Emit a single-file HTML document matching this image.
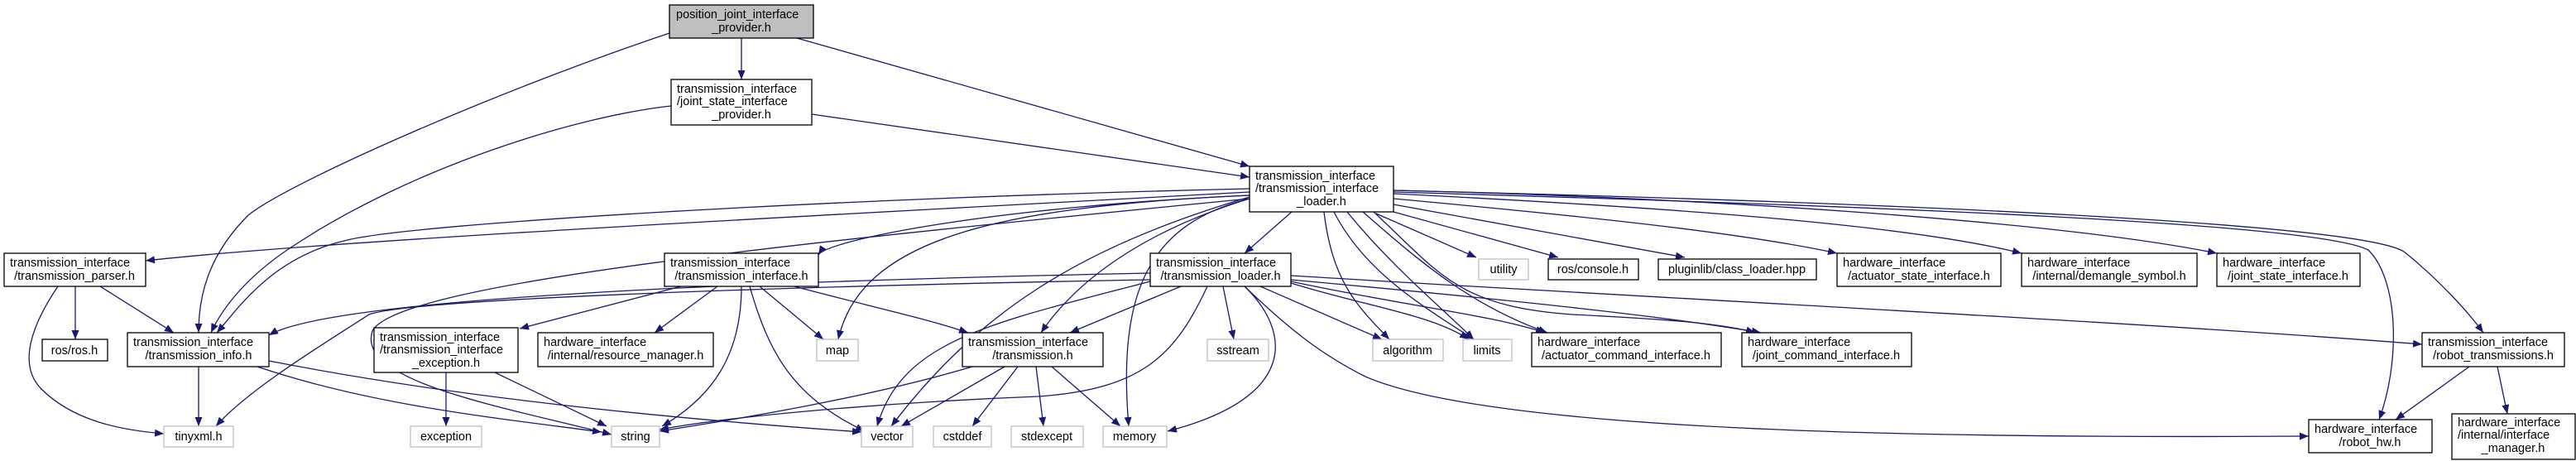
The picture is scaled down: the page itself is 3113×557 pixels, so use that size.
<!DOCTYPE html>
<html><head><meta charset="utf-8"><style>
html,body{margin:0;padding:0;background:#fff;}
svg{display:block;}
text{font-family:"Liberation Sans",sans-serif;font-size:14.5px;fill:#000;}
.e{fill:none;stroke:#191970;stroke-width:1.3;marker-end:url(#a);}
.b{fill:#fff;stroke:#000;stroke-width:1.3;}
.g{fill:#fff;stroke:#bfbfbf;stroke-width:1.3;}
</style></head><body>
<svg width="3113" height="557" viewBox="0 0 3113 557" xmlns="http://www.w3.org/2000/svg">
<defs><marker id="a" markerUnits="userSpaceOnUse" markerWidth="12" markerHeight="9" refX="11" refY="4.5" orient="auto"><path d="M0,0 L11,4.5 L0,9 z" fill="#191970"/></marker></defs>

<!-- edges -->
<path class="e" d="M896,46 L896,96"/>
<path class="e" d="M809,40 C600,110 350,220 300,260 C250,310 240,360 240,402"/>
<path class="e" d="M963,46 L1510,201"/>
<path class="e" d="M811,128 C700,140 500,200 350,300 C290,340 265,380 255,402"/>
<path class="e" d="M981,138 L1510,214"/>
<path class="e" d="M1510,232 C1000,260 400,290 176,315"/>
<path class="e" d="M1510,228 C1000,240 500,270 420,290 C330,310 290,370 262,402"/>
<path class="e" d="M1510,240 C1000,290 480,340 450,400 C430,460 600,490 739,525"/>
<path class="e" d="M1510,236 C1200,250 1000,290 989,308"/>
<path class="e" d="M1510,236 C1200,250 1040,290 1013,410"/>
<path class="e" d="M1510,238 C1300,300 1180,380 1077,515"/>
<path class="e" d="M1510,240 C1380,280 1300,340 1258,402"/>
<path class="e" d="M1510,240 C1390,270 1350,350 1364,515"/>
<path class="e" d="M1561,256 L1504,306"/>
<path class="e" d="M1600,256 C1610,340 1640,370 1679,410"/>
<path class="e" d="M1612,256 C1650,330 1720,370 1781,410"/>
<path class="e" d="M1628,256 C1680,320 1740,370 1781,410"/>
<path class="e" d="M1647,256 C1720,320 1780,370 1870,402"/>
<path class="e" d="M1660,256 C1740,330 1760,370 1900,380 C2000,385 2080,390 2121,402"/>
<path class="e" d="M1663,258 L1784,311"/>
<path class="e" d="M1684,256 L1883,311"/>
<path class="e" d="M1684,247 L2036,311"/>
<path class="e" d="M1684,240 C1900,260 2100,280 2220,306"/>
<path class="e" d="M1684,234 C2000,250 2300,270 2443,306"/>
<path class="e" d="M1684,230 C2100,240 2500,270 2679,306"/>
<path class="e" d="M1684,232 C2300,250 2800,270 2862,302 C2900,340 2900,440 2875,507"/>
<path class="e" d="M1684,230 C2300,245 2850,270 2905,304 C2950,340 2985,380 3001,402"/>

<path class="e" d="M1390,330 C900,340 400,360 325,405"/>
<path class="e" d="M1390,338 C1000,345 500,360 446,380 C400,410 300,470 261,515"/>
<path class="e" d="M1459,346 C1420,430 1380,470 1255,479 C1100,485 900,500 797,519"/>
<path class="e" d="M1390,340 C1200,390 1090,410 1060,515"/>
<path class="e" d="M1427,346 L1293,402"/>
<path class="e" d="M1478,346 L1491,410"/>
<path class="e" d="M1504,346 C1560,400 1570,480 1411,521"/>
<path class="e" d="M1504,346 C1560,400 1600,430 1650,455 C1800,520 2300,530 2790,527"/>
<path class="e" d="M1523,346 L1670,410"/>
<path class="e" d="M1560,342 C1650,370 1730,380 1775,410"/>
<path class="e" d="M1560,340 C1700,370 1800,380 1867,402"/>
<path class="e" d="M1560,338 C1800,360 2000,380 2128,402"/>
<path class="e" d="M1560,333 C2000,360 2600,390 2927,416"/>

<path class="e" d="M823,346 L628,397"/>
<path class="e" d="M867,346 L791,402"/>
<path class="e" d="M896,346 C896,430 860,480 800,515"/>
<path class="e" d="M906,346 C930,430 960,480 1045,521"/>
<path class="e" d="M918,346 L995,410"/>
<path class="e" d="M960,346 C1050,370 1120,385 1170,402"/>

<path class="e" d="M91,346 L91,410"/>
<path class="e" d="M121,346 L210,402"/>
<path class="e" d="M70,346 C40,390 20,440 50,470 C90,510 150,520 198,524"/>

<path class="e" d="M240,443 L240,515"/>
<path class="e" d="M311,443 C450,490 600,505 727,522"/>
<path class="e" d="M325,436 C550,480 800,505 1041,522"/>
<path class="e" d="M539,450 L539,515"/>
<path class="e" d="M598,450 L733,515"/>

<path class="e" d="M1175,443 C1050,480 900,505 797,521"/>
<path class="e" d="M1214,443 L1089,515"/>
<path class="e" d="M1230,443 L1175,515"/>
<path class="e" d="M1252,443 L1261,515"/>
<path class="e" d="M1271,443 L1354,515"/>

<path class="e" d="M2984,443 L2895,507"/>
<path class="e" d="M3018,443 L3030,500"/>

<!-- nodes -->
<rect x="809" y="6" width="174" height="40" fill="#bfbfbf" stroke="#000" stroke-width="1.3"/>
<text x="817" y="22">position_joint_interface</text><text x="896" y="38" text-anchor="middle">_provider.h</text>

<rect class="b" x="811" y="96" width="170" height="55"/>
<text x="818" y="112">transmission_interface</text><text x="818" y="127">/joint_state_interface</text><text x="896" y="143" text-anchor="middle">_provider.h</text>

<rect class="b" x="1510" y="201" width="174" height="55"/>
<text x="1517" y="217">transmission_interface</text><text x="1517" y="232">/transmission_interface</text><text x="1597" y="248" text-anchor="middle">_loader.h</text>

<rect class="b" x="5" y="306" width="171" height="40"/>
<text x="12" y="322">transmission_interface</text><text x="90" y="338" text-anchor="middle">/transmission_parser.h</text>

<rect class="b" x="803" y="306" width="186" height="40"/>
<text x="810" y="322">transmission_interface</text><text x="896" y="338" text-anchor="middle">/transmission_interface.h</text>

<rect class="b" x="1390" y="306" width="170" height="40"/>
<text x="1397" y="322">transmission_interface</text><text x="1475" y="338" text-anchor="middle">/transmission_loader.h</text>

<rect class="g" x="1787" y="313" width="60" height="25"/><text x="1817" y="330" text-anchor="middle">utility</text>
<rect class="b" x="1871" y="313" width="109" height="25"/><text x="1925" y="330" text-anchor="middle">ros/console.h</text>
<rect class="b" x="2004" y="313" width="191" height="25"/><text x="2099" y="330" text-anchor="middle">pluginlib/class_loader.hpp</text>

<rect class="b" x="2220" y="306" width="198" height="40"/>
<text x="2227" y="322">hardware_interface</text><text x="2319" y="338" text-anchor="middle">/actuator_state_interface.h</text>
<rect class="b" x="2443" y="306" width="212" height="40"/>
<text x="2450" y="322">hardware_interface</text><text x="2549" y="338" text-anchor="middle">/internal/demangle_symbol.h</text>
<rect class="b" x="2679" y="306" width="173" height="40"/>
<text x="2686" y="322">hardware_interface</text><text x="2765" y="338" text-anchor="middle">/joint_state_interface.h</text>

<rect class="b" x="51" y="410" width="79" height="26"/><text x="90" y="428" text-anchor="middle">ros/ros.h</text>
<rect class="b" x="154" y="402" width="171" height="41"/>
<text x="161" y="418">transmission_interface</text><text x="240" y="434" text-anchor="middle">/transmission_info.h</text>
<rect class="b" x="452" y="396" width="174" height="54"/>
<text x="459" y="412">transmission_interface</text><text x="459" y="427">/transmission_interface</text><text x="539" y="443" text-anchor="middle">_exception.h</text>
<rect class="b" x="650" y="402" width="212" height="41"/>
<text x="657" y="418">hardware_interface</text><text x="756" y="434" text-anchor="middle">/internal/resource_manager.h</text>
<rect class="g" x="987" y="410" width="50" height="26"/><text x="1012" y="428" text-anchor="middle">map</text>
<rect class="b" x="1163" y="402" width="170" height="41"/>
<text x="1170" y="418">transmission_interface</text><text x="1248" y="434" text-anchor="middle">/transmission.h</text>
<rect class="g" x="1459" y="410" width="74" height="26"/><text x="1496" y="428" text-anchor="middle">sstream</text>
<rect class="g" x="1659" y="410" width="85" height="26"/><text x="1701" y="428" text-anchor="middle">algorithm</text>
<rect class="g" x="1768" y="410" width="59" height="26"/><text x="1797" y="428" text-anchor="middle">limits</text>
<rect class="b" x="1851" y="402" width="229" height="41"/>
<text x="1858" y="418">hardware_interface</text><text x="1965" y="434" text-anchor="middle">/actuator_command_interface.h</text>
<rect class="b" x="2105" y="402" width="205" height="41"/>
<text x="2112" y="418">hardware_interface</text><text x="2207" y="434" text-anchor="middle">/joint_command_interface.h</text>
<rect class="b" x="2927" y="402" width="172" height="41"/>
<text x="2934" y="418">transmission_interface</text><text x="3013" y="434" text-anchor="middle">/robot_transmissions.h</text>

<rect class="g" x="198" y="515" width="84" height="25"/><text x="240" y="532" text-anchor="middle">tinyxml.h</text>
<rect class="g" x="496" y="515" width="86" height="25"/><text x="539" y="532" text-anchor="middle">exception</text>
<rect class="g" x="739" y="515" width="58" height="25"/><text x="768" y="532" text-anchor="middle">string</text>
<rect class="g" x="1041" y="515" width="62" height="25"/><text x="1072" y="532" text-anchor="middle">vector</text>
<rect class="g" x="1128" y="515" width="70" height="25"/><text x="1163" y="532" text-anchor="middle">cstddef</text>
<rect class="g" x="1222" y="515" width="87" height="25"/><text x="1265" y="532" text-anchor="middle">stdexcept</text>
<rect class="g" x="1333" y="515" width="77" height="25"/><text x="1371" y="532" text-anchor="middle">memory</text>
<rect class="b" x="2790" y="507" width="149" height="40"/>
<text x="2797" y="523">hardware_interface</text><text x="2864" y="539" text-anchor="middle">/robot_hw.h</text>
<rect class="b" x="2963" y="500" width="149" height="55"/>
<text x="2970" y="515">hardware_interface</text><text x="2970" y="530">/internal/interface</text><text x="3037" y="546" text-anchor="middle">_manager.h</text>
</svg>
</body></html>
